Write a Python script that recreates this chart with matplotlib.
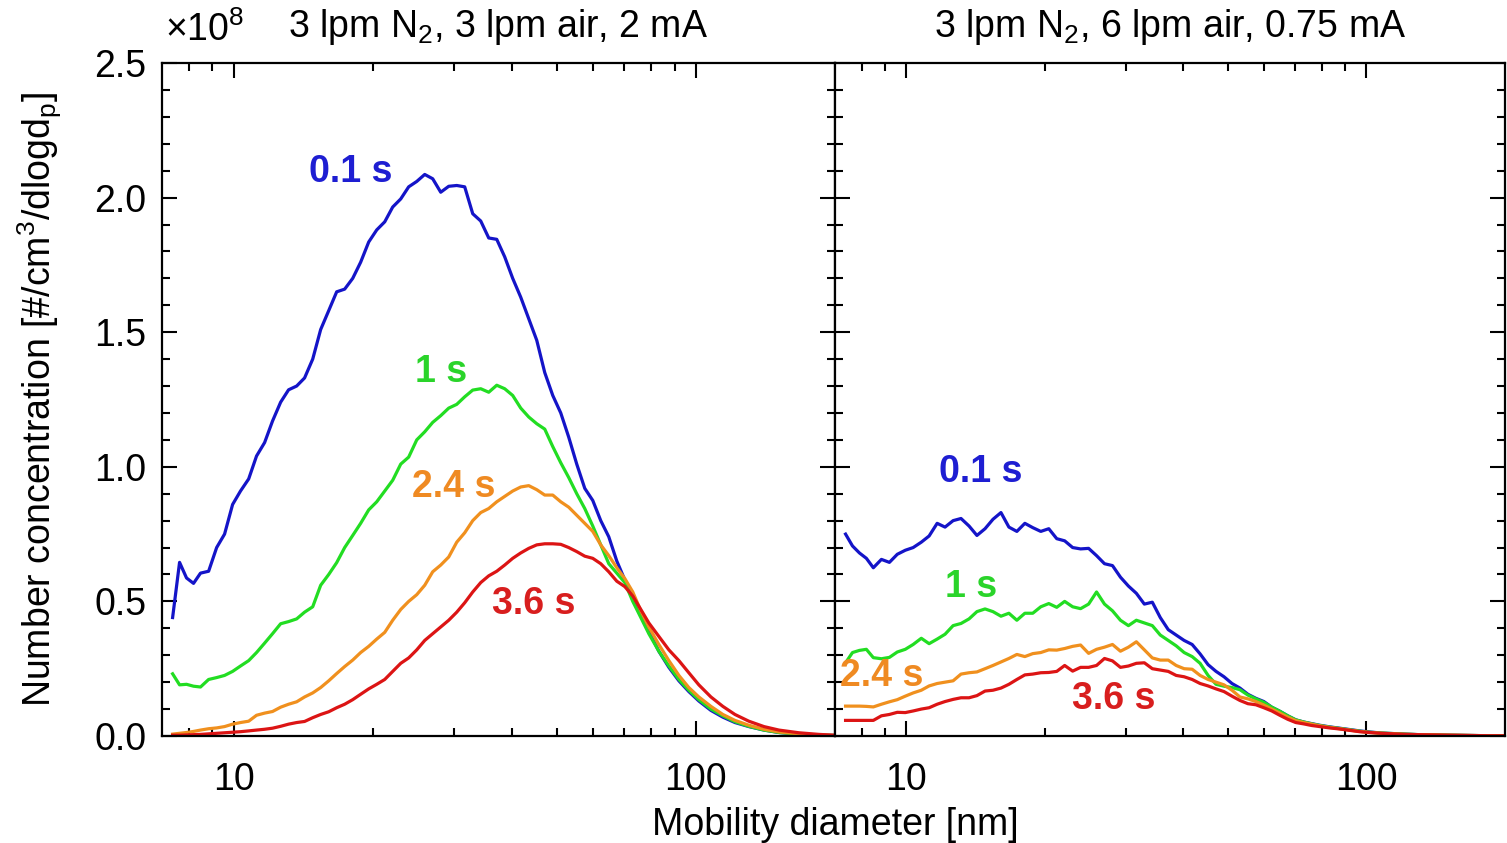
import matplotlib
matplotlib.use("Agg")
import matplotlib.pyplot as plt
from matplotlib.ticker import FixedLocator, MultipleLocator, NullFormatter

# mobility diameter channels [nm], shared by both panels
diam = [
    7.38, 7.64, 7.91, 8.19, 8.48, 8.83, 9.19, 9.56, 9.95, 10.35,
    10.78, 11.21, 11.67, 12.14, 12.64, 13.15, 13.69, 14.24, 14.83, 15.43,
    16.06, 16.71, 17.39, 18.10, 18.83, 19.60, 20.40, 21.23, 22.09, 22.99,
    23.92, 24.90, 25.91, 26.96, 28.06, 29.20, 30.39, 31.62, 32.91, 34.25,
    35.64, 37.09, 38.59, 40.16, 41.80, 43.50, 45.27, 47.11, 49.03, 51.02,
    53.09, 55.25, 57.50, 59.84, 62.27, 64.81, 67.45, 70.19, 73.04, 76.03,
    79.12, 83.16, 87.43, 91.90, 96.56, 101.5, 107.8, 114.4, 121.5, 130.2,
    140.4, 151.3, 167.1, 184.6, 199.0,
]

# number concentration, units of 1e8 #/cm3/dlogdp
# left panel: 3 lpm N2, 3 lpm air, 2 mA
left_01 = [
    0.44, 0.645, 0.587, 0.567, 0.605, 0.612, 0.70, 0.75, 0.86, 0.91,
    0.955, 1.04, 1.09, 1.17, 1.24, 1.286, 1.30, 1.33, 1.40, 1.51,
    1.58, 1.65, 1.66, 1.70, 1.76, 1.835, 1.88, 1.91, 1.965, 1.995,
    2.04, 2.06, 2.086, 2.07, 2.02, 2.042, 2.045, 2.04, 1.94, 1.913,
    1.85, 1.845, 1.78, 1.70, 1.63, 1.55, 1.47, 1.35, 1.265, 1.20,
    1.11, 1.01, 0.92, 0.875, 0.80, 0.74, 0.65, 0.58, 0.52, 0.46,
    0.39, 0.315, 0.255, 0.205, 0.165, 0.13, 0.095, 0.07, 0.05, 0.035,
    0.022, 0.013, 0.007, 0.003, 0.002,
]
left_1 = [
    0.231, 0.19, 0.192, 0.185, 0.182, 0.21, 0.217, 0.225, 0.24, 0.26,
    0.28, 0.31, 0.345, 0.38, 0.417, 0.425, 0.435, 0.46, 0.48, 0.56,
    0.60, 0.644, 0.70, 0.745, 0.79, 0.84, 0.87, 0.91, 0.95, 1.01,
    1.036, 1.10, 1.13, 1.165, 1.19, 1.218, 1.232, 1.26, 1.285, 1.29,
    1.277, 1.303, 1.29, 1.265, 1.218, 1.185, 1.16, 1.14, 1.075, 1.015,
    0.96, 0.90, 0.845, 0.78, 0.71, 0.64, 0.605, 0.57, 0.50, 0.44,
    0.38, 0.315, 0.26, 0.21, 0.17, 0.135, 0.10, 0.075, 0.053, 0.036,
    0.022, 0.013, 0.007, 0.003, 0.002,
]
left_24 = [
    0.007, 0.01, 0.013, 0.017, 0.022, 0.027, 0.03, 0.035, 0.044, 0.05,
    0.055, 0.077, 0.085, 0.091, 0.107, 0.118, 0.127, 0.145, 0.16, 0.18,
    0.205, 0.232, 0.258, 0.282, 0.31, 0.333, 0.36, 0.385, 0.43, 0.47,
    0.50, 0.525, 0.56, 0.61, 0.635, 0.665, 0.72, 0.755, 0.80, 0.83,
    0.845, 0.87, 0.89, 0.91, 0.925, 0.93, 0.915, 0.895, 0.895, 0.87,
    0.85, 0.82, 0.79, 0.76, 0.71, 0.67, 0.625, 0.585, 0.535, 0.465,
    0.405, 0.34, 0.28, 0.225, 0.18, 0.145, 0.11, 0.08, 0.058, 0.04,
    0.025, 0.015, 0.008, 0.004, 0.002,
]
left_36 = [
    0.003, 0.003, 0.004, 0.005, 0.006, 0.008, 0.01, 0.012, 0.014, 0.016,
    0.019, 0.022, 0.025, 0.029, 0.036, 0.044, 0.05, 0.054, 0.068, 0.08,
    0.09, 0.105, 0.118, 0.135, 0.155, 0.175, 0.192, 0.21, 0.24, 0.27,
    0.29, 0.32, 0.355, 0.38, 0.405, 0.43, 0.46, 0.495, 0.535, 0.57,
    0.595, 0.612, 0.635, 0.66, 0.68, 0.697, 0.71, 0.714, 0.714, 0.712,
    0.70, 0.685, 0.668, 0.66, 0.64, 0.61, 0.575, 0.555, 0.52, 0.47,
    0.42, 0.37, 0.32, 0.28, 0.235, 0.19, 0.145, 0.11, 0.08, 0.055,
    0.035, 0.022, 0.012, 0.006, 0.003,
]

# right panel: 3 lpm N2, 6 lpm air, 0.75 mA
right_01 = [
    0.75, 0.706, 0.68, 0.66, 0.625, 0.656, 0.645, 0.675, 0.69, 0.70,
    0.72, 0.743, 0.79, 0.776, 0.80, 0.808, 0.78, 0.745, 0.77, 0.805,
    0.83, 0.776, 0.76, 0.79, 0.774, 0.76, 0.77, 0.733, 0.725, 0.70,
    0.695, 0.697, 0.67, 0.64, 0.633, 0.59, 0.557, 0.53, 0.49, 0.497,
    0.44, 0.395, 0.375, 0.355, 0.34, 0.305, 0.265, 0.24, 0.22, 0.195,
    0.178, 0.155, 0.14, 0.128, 0.107, 0.092, 0.075, 0.06, 0.052, 0.046,
    0.04, 0.034, 0.029, 0.024, 0.019, 0.015, 0.011, 0.009, 0.007, 0.005,
    0.004, 0.003, 0.002, 0.001, 0.001,
]
right_1 = [
    0.272, 0.31, 0.318, 0.322, 0.291, 0.287, 0.292, 0.312, 0.322, 0.34,
    0.363, 0.343, 0.36, 0.378, 0.41, 0.418, 0.435, 0.462, 0.472, 0.462,
    0.445, 0.456, 0.43, 0.456, 0.456, 0.48, 0.492, 0.478, 0.50, 0.48,
    0.473, 0.49, 0.535, 0.49, 0.465, 0.43, 0.41, 0.43, 0.42, 0.41,
    0.375, 0.355, 0.335, 0.31, 0.295, 0.27, 0.225, 0.192, 0.185, 0.18,
    0.172, 0.152, 0.138, 0.125, 0.107, 0.092, 0.075, 0.06, 0.052, 0.045,
    0.039, 0.033, 0.028, 0.023, 0.018, 0.014, 0.011, 0.009, 0.007, 0.005,
    0.004, 0.003, 0.002, 0.001, 0.001,
]
right_24 = [
    0.111, 0.111, 0.111, 0.11, 0.108, 0.118, 0.127, 0.135, 0.148, 0.16,
    0.17, 0.186, 0.195, 0.20, 0.205, 0.23, 0.235, 0.238, 0.25, 0.262,
    0.275, 0.288, 0.303, 0.295, 0.306, 0.31, 0.32, 0.319, 0.325, 0.333,
    0.338, 0.307, 0.322, 0.33, 0.34, 0.315, 0.33, 0.35, 0.32, 0.29,
    0.282, 0.282, 0.262, 0.25, 0.248, 0.225, 0.21, 0.20, 0.19, 0.17,
    0.145, 0.138, 0.128, 0.115, 0.10, 0.085, 0.07, 0.057, 0.05, 0.044,
    0.038, 0.032, 0.027, 0.022, 0.017, 0.013, 0.01, 0.008, 0.006, 0.005,
    0.004, 0.003, 0.002, 0.001, 0.001,
]
right_36 = [
    0.058, 0.058, 0.058, 0.058, 0.058, 0.075, 0.08, 0.088, 0.087, 0.093,
    0.10, 0.105, 0.118, 0.128, 0.136, 0.142, 0.142, 0.15, 0.167, 0.17,
    0.178, 0.192, 0.21, 0.227, 0.23, 0.235, 0.236, 0.24, 0.262, 0.241,
    0.255, 0.255, 0.262, 0.288, 0.279, 0.255, 0.26, 0.27, 0.272, 0.25,
    0.245, 0.24, 0.225, 0.22, 0.21, 0.195, 0.186, 0.175, 0.165, 0.148,
    0.132, 0.12, 0.116, 0.105, 0.093, 0.077, 0.062, 0.05, 0.045, 0.039,
    0.035, 0.03, 0.026, 0.021, 0.016, 0.013, 0.01, 0.008, 0.006, 0.005,
    0.004, 0.003, 0.002, 0.001, 0.001,
]

labels = ["0.1 s", "1 s", "2.4 s", "3.6 s"]
line_colors = ["#1414c8", "#22dd22", "#f0901e", "#dc1414"]
text_colors = ["#1e1ed2", "#2ad42a", "#ef8a22", "#d81e1e"]
titles = ["3 lpm N$_2$, 3 lpm air, 2 mA", "3 lpm N$_2$, 6 lpm air, 0.75 mA"]

# where the curve names sit (diameter, concentration)
left_label_pos = [(17.9, 2.095), (28.1, 1.352), (29.9, 0.925), (44.6, 0.49)]
right_label_pos = [(14.5, 0.98), (13.8, 0.553), (8.83, 0.223), (28.2, 0.137)]

plt.rcParams['font.family'] = ['Liberation Sans', 'DejaVu Sans']
plt.rcParams['mathtext.fontset'] = 'custom'
plt.rcParams['mathtext.rm'] = 'Liberation Sans'
plt.rcParams['mathtext.it'] = 'Liberation Sans:italic'
plt.rcParams['mathtext.bf'] = 'Liberation Sans:bold'

FS = 27
W, H = 1507, 843
fig = plt.figure(figsize=(W / 100, H / 100), dpi=100)
ax_l = fig.add_axes([162 / W, (H - 736) / H, (835 - 162) / W, (736 - 63) / H])
ax_r = fig.add_axes([835 / W, (H - 736) / H, (1505 - 835) / W, (736 - 63) / H])

panels = [
    (ax_l, [left_01, left_1, left_24, left_36], left_label_pos),
    (ax_r, [right_01, right_1, right_24, right_36], right_label_pos),
]

for ax, series, label_pos in panels:
    for vals, col in zip(series, line_colors):
        ax.plot(diam, vals, color=col, lw=2.3)
    for lab, (xd, yv), tc in zip(labels, label_pos, text_colors):
        ax.text(xd, yv, lab, color=tc, fontsize=FS, fontweight='bold',
                ha='center', va='center')

    ax.set_xscale('log')
    ax.set_xlim(7, 200)
    ax.set_ylim(0, 2.5)
    ax.xaxis.set_major_locator(FixedLocator([10, 100]))
    ax.xaxis.set_minor_locator(FixedLocator([8, 9, 20, 30, 40, 50, 60, 70, 80, 90]))
    ax.xaxis.set_minor_formatter(NullFormatter())
    ax.set_xticklabels(["10", "100"])
    ax.yaxis.set_major_locator(MultipleLocator(0.5))
    ax.yaxis.set_minor_locator(MultipleLocator(0.1))
    ax.tick_params(which='both', direction='in', top=True, right=True,
                   labelsize=FS, width=1.5, colors='black')
    ax.tick_params(which='major', length=11)
    ax.tick_params(which='minor', length=6)
    ax.tick_params(axis='x', pad=19)
    ax.tick_params(axis='y', pad=11)
    for sp in ax.spines.values():
        sp.set_linewidth(1.6)

ax_l.set_yticks([0, 0.5, 1.0, 1.5, 2.0, 2.5])
ax_l.set_yticklabels(["0.0", "0.5", "1.0", "1.5", "2.0", "2.5"])
ax_r.tick_params(axis='y', labelleft=False)

ax_l.set_title(titles[0], fontsize=FS, pad=19)
ax_r.set_title(titles[1], fontsize=FS, pad=19)

fig.text(205 / W, 1 - 30 / H, "×10$^8$", fontsize=FS, ha='center', va='center')
fig.text(835 / W, 1 - 825 / H, "Mobility diameter [nm]", fontsize=FS,
         ha='center', va='center')
fig.text(40 / W, 1 - 400 / H,
         "Number concentration [#/cm$^3$/dlogd$_\\mathrm{p}$]",
         fontsize=FS, rotation=90, ha='center', va='center')

fig.savefig("out.png", dpi=100)
